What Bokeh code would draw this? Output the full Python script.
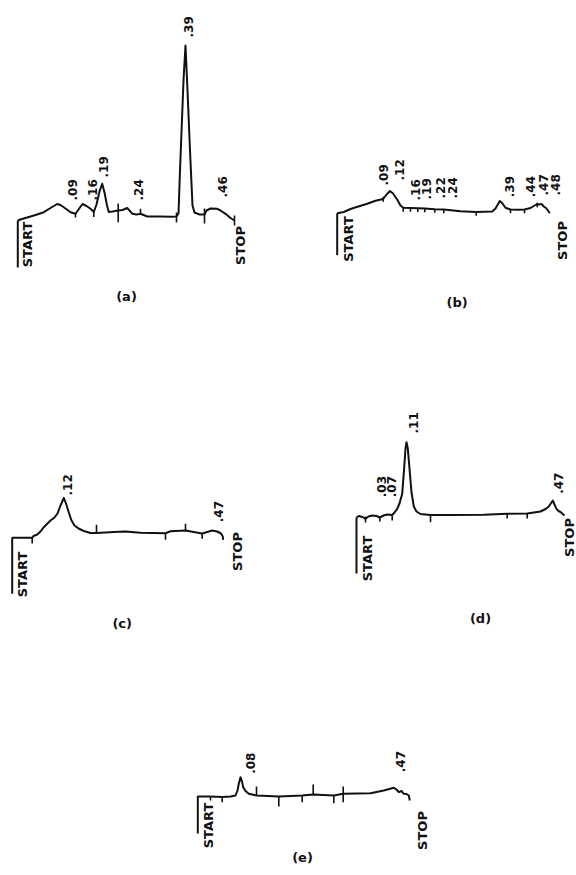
import numpy as np
from bokeh.plotting import figure
from bokeh.models import ColumnDataSource, Range1d
from bokeh.core.properties import value
from bokeh.embed import file_html
from bokeh.resources import INLINE

# ---------------- DATA (distance from START, detector deflection) ----------------
# (a)
a_dist = [0, 2.7, 7.7, 17.7, 26, 32.7, 39.4, 42.7, 47.7, 52.7, 57.7, 60.7, 64.7, 68.7, 72.7, 76,
          78.7, 81.7, 84.4, 86.7, 89.2, 91, 94.7, 100.4, 104.7, 109.4, 111.7, 114.7, 118.7, 122.7,
          129.4, 142.7, 152.7, 158.7, 160.7, 162.2, 165.7, 167.7, 169.7, 172.2, 174.7, 176.7, 181.7,
          186.7, 188.7, 192.7, 199.4, 202.7, 207.7, 212.7, 216.7]
a_signal = [0, 1, 2.5, 5.5, 8.3, 12.5, 16.5, 15.5, 12, 8.3, 6.7, 11, 16.5, 14.5, 11.7, 8.5,
            16, 29, 36.7, 28, 15, 8.5, 9, 10, 10.5, 12.5, 10, 6.7, 6, 6.7,
            4, 4, 3.7, 4, 7, 50, 140, 175, 130, 70, 15, 8, 6,
            6, 10, 12, 11.7, 10, 6.7, 2.5, 0]
a_tick_pos = [57.7, 76, 100.4, 122.7, 158.7, 186.7, 216.7]
a_tick_lo = [3, 3.5, -1.7, 6.7, -2, -3, -5]
a_tick_hi = [6.7, 8.5, 17, 11.7, 8, 12, 5]
a_rf = [".09", ".16", ".19", ".24", ".39", ".46"]
a_rf_pos = [54.4, 74.4, 85.2, 120.7, 170.7, 204.7]
a_rf_h = [20, 20, 43, 20, 183, 23]

# (b)
b_dist = [0, 6.6, 13.3, 20.3, 30, 38.3, 46, 49.3, 52.8, 55.8, 60, 63.3, 66, 73.3, 80.6, 87.6,
          97.6, 106.6, 123.3, 139, 155, 158.3, 162.6, 165.3, 168.3, 173.3, 180.3, 187.3, 193.3,
          196.6, 200, 201.6, 204.3, 206.6, 209.3, 212.6]
b_signal = [0, 1.2, 4.2, 6.4, 9.4, 12.4, 14.2, 18.7, 22.2, 19.7, 13.7, 7.7, 5.4, 5.2, 5, 4.7,
            4, 3.7, 2, 1.2, 1.7, 4.7, 12.2, 9.7, 5.4, 3.7, 3.4, 3.7, 5.2,
            7.2, 9.2, 8.7, 9.2, 6.7, 4.7, 0]
b_tick_pos = [46, 66, 73.3, 80.6, 87.6, 97.6, 106.6, 139, 173.3, 187.3, 200]
b_tick_lo = [11.5, 1.5, 1.5, 1.2, 1, 0.5, 0, -2.5, 0, 0, 6]
b_tick_hi = [16.5, 5.4, 5.2, 5, 4.7, 4, 3.7, 1.2, 3.7, 3.7, 10.5]
b_rf = [".09", ".12", ".16", ".19", ".22", ".24", ".39", ".44", ".47", ".48"]
b_rf_pos = [46.6, 62.6, 78.3, 89.3, 103.3, 115, 172.3, 193.3, 206.6, 218.3]
b_rf_h = [27.7, 32.7, 12.7, 13.7, 14.7, 14.7, 16, 16, 17.7, 17.7]

# (c)
c_dist = [20, 21.3, 25, 28.3, 31.6, 35.3, 38.3, 42.3, 45.3, 48.3, 51.6, 53.8, 56.6, 59.3, 62.3,
          66.3, 71.6, 78.3, 84.3, 93.3, 101.6, 113.3, 128.3, 153.3, 158.3, 173.3, 181.6, 190,
          195, 200, 205, 208.8, 210.6, 211]
c_signal = [0, 1.8, 3.3, 6.3, 10.6, 14.3, 17.3, 20.3, 24.3, 32.3, 40, 34.3, 25.3, 17.3, 12.3,
            9.3, 6.8, 4.8, 4.8, 5.3, 5.8, 6.3, 5, 4.6, 6.6, 7.3, 5.8, 4.3,
            5.8, 7.3, 6.3, 4.3, 1.3, -2]
c_tick_pos = [20, 84.3, 153.3, 173.3, 190]
c_tick_lo = [-5.7, 4.8, -2, 7.3, -1]
c_tick_hi = [0, 13, 4.6, 14, 4.3]
c_rf = [".12", ".47"]
c_rf_pos = [55, 206.6]
c_rf_h = [42.3, 15.6]

# (d)
d_dist = [0, 2.3, 6, 9, 12, 15.7, 20, 23.3, 27, 30.7, 35.7, 38, 40.7, 43, 45.7, 47.5, 49, 50,
          51.3, 53, 55, 57.3, 60, 64, 74, 94, 127.3, 150.7, 170.7, 184, 189, 192.3, 196.3,
          198, 200, 202, 204, 208]
d_signal = [0, 1.5, 0.5, -1.3, 1, 2, 1.5, 0, 2, 3, 2.5, 5, 8.7, 14, 23.7, 47, 69, 75.3,
            69, 49, 25, 11, 6, 3.5, 2.5, 2.5, 2.7, 3.7, 4, 6, 8.5, 11, 17,
            13, 8.7, 6.5, 5.5, 2]
d_tick_pos = [9, 23.3, 35.7, 74, 150.7, 170.7]
d_tick_lo = [-5, -4, -3, -4.7, -1, -1]
d_tick_hi = [1, 1, 2.5, 2.5, 3.7, 4]
d_rf = [".03", ".07", ".11", ".47"]
d_rf_pos = [25.2, 35.2, 56.7, 202.3]
d_rf_h = [20.3, 20.3, 84, 23.7]

# (e)
e_dist = [12.7, 24.4, 32.7, 37.7, 39.7, 41, 42.7, 44.2, 45.4, 47.7, 51, 58.7, 81, 104.4, 115.4,
          136, 145.4, 172.7, 186, 196, 198.7, 201, 203.7, 206, 208.7, 211, 212]
e_signal = [0, -0.5, 0, 1, 6, 12.7, 19.3, 15, 9.3, 5.5, 2.7, 1, 0, 1, 2,
            1, 2.7, 3.3, 6, 8.7, 7, 4.3, 5.5, 2.7, 2.5, 1, -4]
e_tick_pos = [12.7, 24.4, 58.7, 81, 104.4, 115.4, 136, 145.4]
e_tick_lo = [-4, -5.7, 1, -10, -5.7, 2, -6.7, -5.7]
e_tick_hi = [0, -0.5, 10, 0, 1, 12, 1, 10]
e_rf = [".08", ".47"]
e_rf_pos = [52.7, 202.7]
e_rf_h = [22.7, 24.3]

# ---------------- LAYOUT (panel placement, markers, captions) ----------------
panel_names = ["(a)", "(b)", "(c)", "(d)", "(e)"]
origin_x = [17.3, 336.7, 11.7, 356, 197.3]
origin_y = [655, 662.3, 337.7, 358, 79]
start_path_x = [[0, 0], [0, 0], [20, 0, 0], [0, 0], [12.7, 0, 0]]
start_path_y = [[0, -47], [0, -42], [0, 0, -56], [0, -56], [0, 0, -37]]
start_text_xy = [(9.7, -24), (11.3, -25.8), (10, -36.7), (10.7, -41), (11, -29)]
stop_text_xy = [(222.7, -25), (225, -27.3), (225, -13.7), (213, -20), (224.4, -34)]
caption_xy = [(108.7, -76), (120, -89), (110, -86), (124, -101.3), (104.7, -61)]

traces = [(a_dist, a_signal), (b_dist, b_signal), (c_dist, c_signal), (d_dist, d_signal), (e_dist, e_signal)]
ticks = [(a_tick_pos, a_tick_lo, a_tick_hi), (b_tick_pos, b_tick_lo, b_tick_hi),
         (c_tick_pos, c_tick_lo, c_tick_hi), (d_tick_pos, d_tick_lo, d_tick_hi),
         (e_tick_pos, e_tick_lo, e_tick_hi)]
rfs = [(a_rf, a_rf_pos, a_rf_h), (b_rf, b_rf_pos, b_rf_h), (c_rf, c_rf_pos, c_rf_h),
       (d_rf, d_rf_pos, d_rf_h), (e_rf, e_rf_pos, e_rf_h)]

W, H = 576, 875
p = figure(width=W, height=H, output_backend="svg", toolbar_location=None,
           x_range=Range1d(0, W), y_range=Range1d(0, H), min_border=0)
p.axis.visible = False
p.grid.visible = False
p.outline_line_color = None
p.background_fill_color = "white"
p.border_fill_color = "white"

FONT = value("DejaVu Sans")
INK = "#111111"

for i in range(5):
    ox, oy = origin_x[i], origin_y[i]
    dx, sy = traces[i]
    p.line(np.array(dx) + ox, np.array(sy) + oy, line_color=INK, line_width=2,
           line_join="round")
    tp, tlo, thi = ticks[i]
    tp = np.array(tp) + ox
    p.segment(x0=tp, y0=np.array(tlo) + oy, x1=tp, y1=np.array(thi) + oy,
              line_color=INK, line_width=1.6)
    p.line(np.array(start_path_x[i]) + ox, np.array(start_path_y[i]) + oy,
           line_color=INK, line_width=2)
    labels, lpos, lh = rfs[i]
    src = ColumnDataSource(dict(x=np.array(lpos) + ox, y=np.array(lh) + oy, t=labels))
    p.text(x="x", y="y", text="t", source=src, angle=np.pi / 2, text_align="left",
           text_baseline="middle", text_font=FONT, text_font_style="bold",
           text_font_size="12px", text_color=INK)
    sx, sty = start_text_xy[i]
    ex, ey = stop_text_xy[i]
    src2 = ColumnDataSource(dict(x=[sx + ox, ex + ox], y=[sty + oy, ey + oy], t=["START", "STOP"]))
    p.text(x="x", y="y", text="t", source=src2, angle=np.pi / 2, text_align="center",
           text_baseline="middle", text_font=FONT, text_font_style="bold",
           text_font_size="13px", text_color=INK)
    cx, cy = caption_xy[i]
    src3 = ColumnDataSource(dict(x=[cx + ox], y=[cy + oy], t=[panel_names[i]]))
    p.text(x="x", y="y", text="t", source=src3, text_align="center",
           text_baseline="middle", text_font=FONT, text_font_style="bold",
           text_font_size="13px", text_color=INK)

open("out.html", "w").write(file_html(p, INLINE))
